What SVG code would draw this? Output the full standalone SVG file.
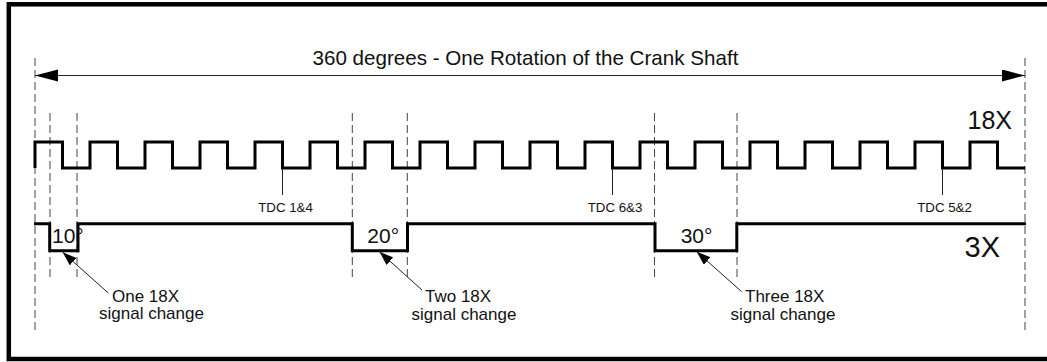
<svg xmlns="http://www.w3.org/2000/svg" width="1047" height="362" viewBox="0 0 1047 362">
  <defs>
    <marker id="bigHead" markerUnits="userSpaceOnUse" markerWidth="24" markerHeight="13" refX="23" refY="6" orient="auto-start-reverse">
      <path d="M0,0 L23,6 L0,12 z" fill="#000"/>
    </marker>
    <marker id="smallHead" markerUnits="userSpaceOnUse" markerWidth="15" markerHeight="11" refX="14" refY="5" orient="auto">
      <path d="M0,0 L14,5 L0,10 z" fill="#000"/>
    </marker>
  </defs>
  <style>
    text { font-family: "Liberation Sans", Arial, sans-serif; fill: #111; }
    .frame { fill: #fff; stroke: #000; stroke-width: 4.5; }
    .guide { stroke: #444; stroke-width: 1; stroke-dasharray: 8 4; fill: none; }
    .wave { stroke: #000; stroke-width: 3; fill: none; stroke-linejoin: miter; }
    .thin { stroke: #222; stroke-width: 1; fill: none; }
    .big { font-size: 20.6px; }
    .tdc { font-size: 13.3px; text-anchor: middle; }
    .deg { font-size: 21px; }
    .note { font-size: 17px; }
  </style>

  <g id="frame">
    <rect class="frame" x="8.8" y="4.3" width="1060" height="354.7"/>
  </g>

  <g id="guides">
    <line class="guide" x1="35" y1="58" x2="35" y2="333"/>
    <line class="guide" x1="1025" y1="58" x2="1025" y2="333"/>
    <line class="guide" x1="50" y1="113" x2="50" y2="278"/>
    <line class="guide" x1="77" y1="113" x2="77" y2="278"/>
    <line class="guide" x1="352.3" y1="113" x2="352.3" y2="278"/>
    <line class="guide" x1="407.3" y1="113" x2="407.3" y2="278"/>
    <line class="guide" x1="654.5" y1="113" x2="654.5" y2="278"/>
    <line class="guide" x1="737" y1="113" x2="737" y2="278"/>
  </g>

  <g id="rotation">
    <line class="thin" x1="35" y1="75.5" x2="1025" y2="75.5" marker-start="url(#bigHead)" marker-end="url(#bigHead)"/>
    <text class="big" x="312.5" y="65">360 degrees - One Rotation of the Crank Shaft</text>
  </g>

  <g id="signal-18x">
    <path class="wave" d="M35,168 V142 H62.5 V168 H90 V142 H117.5 V168 H145 V142 H172.5 V168 H200 V142 H227.5 V168 H255 V142 H282.5 V168 H310 V142 H337.5 V168 H365 V142 H392.5 V168 H420 V142 H447.5 V168 H475 V142 H502.5 V168 H530 V142 H557.5 V168 H585 V142 H612.5 V168 H640 V142 H667.5 V168 H695 V142 H722.5 V168 H750 V142 H777.5 V168 H805 V142 H832.5 V168 H860 V142 H887.5 V168 H915 V142 H942.5 V168 H970 V142 H997.5 V168 H1025"/>
    <text x="967.5" y="129" style="font-size:25px">18X</text>
  </g>

  <g id="tdc-14">
    <line class="thin" x1="282.5" y1="168" x2="282.5" y2="195"/>
    <text class="tdc" x="285.5" y="212">TDC 1&amp;4</text>
  </g>
  <g id="tdc-63">
    <line class="thin" x1="612.5" y1="168" x2="612.5" y2="195"/>
    <text class="tdc" x="615" y="212">TDC 6&amp;3</text>
  </g>
  <g id="tdc-52">
    <line class="thin" x1="942.5" y1="168" x2="942.5" y2="195"/>
    <text class="tdc" x="944.5" y="212">TDC 5&amp;2</text>
  </g>

  <g id="signal-3x">
    <path class="wave" d="M34,223.7 H49.7 V250.8 H78 V223.7 H352.3 V250.8 H407.5 V223.7 H655 V250.8 H736.8 V223.7 H1026"/>
    <text x="964.5" y="256.5" style="font-size:29px">3X</text>
  </g>

  <g id="deg-10"><text class="deg" x="52" y="243">10°</text></g>
  <g id="deg-20"><text class="deg" x="367.3" y="243.3">20°</text></g>
  <g id="deg-30"><text class="deg" x="680.7" y="243.3">30°</text></g>

  <g id="note-one">
    <text class="note" x="112" y="302">One 18X</text>
    <text class="note" x="99" y="319">signal change</text>
  </g>
  <g id="note-two">
    <text class="note" x="425" y="302">Two 18X</text>
    <text class="note" x="411.5" y="320">signal change</text>
  </g>
  <g id="note-three">
    <text class="note" x="745" y="302">Three 18X</text>
    <text class="note" x="730.5" y="320">signal change</text>
  </g>

  <g id="connectors">
    <line class="thin" x1="108.3" y1="293" x2="62.7" y2="252.3" marker-end="url(#smallHead)"/>
    <line class="thin" x1="422" y1="290" x2="379.5" y2="251.8" marker-end="url(#smallHead)"/>
    <line class="thin" x1="741.7" y1="291.7" x2="696.7" y2="251.7" marker-end="url(#smallHead)"/>
  </g>
</svg>
